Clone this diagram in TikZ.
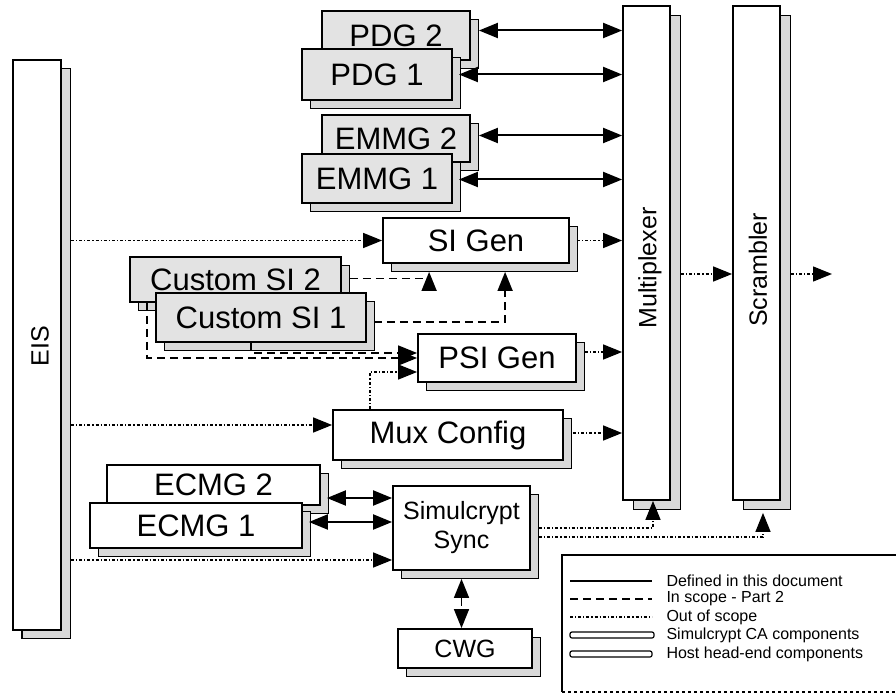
\documentclass[tikz,border=0pt]{standalone}
\usepackage{fontspec}
\setmainfont{Liberation Sans}
\usetikzlibrary{arrows.meta,shadows,calc}
\begin{document}
\begin{tikzpicture}[x=1pt,y=-1pt,
  box/.style={draw=black, line width=1.8pt, fill=white, inner sep=0pt,
    general shadow={shadow xshift=8pt, shadow yshift=-8pt, fill=gray!30, draw=black, line width=0.8pt}},
  tallbox/.style={draw=black, line width=1.8pt, fill=white, inner sep=0pt,
    general shadow={shadow xshift=10pt, shadow yshift=-9pt, fill=gray!30, draw=black, line width=0.8pt}},
  grey/.style={fill=gray!22},
  big/.style={font=\fontsize{31}{36}\selectfont},
  mid/.style={font=\fontsize{25}{29}\selectfont},
  small/.style={font=\fontsize{16}{18}\selectfont},
  def/.style={line width=2pt},
  scopetwo/.style={line width=1.6pt, dash pattern=on 8pt off 5pt},
  oos/.style={line width=1.4pt, dash pattern=on 3pt off 2pt on 1.2pt off 2pt},
  tip/.tip={Triangle[length=19pt,width=15pt]},
  arr/.style={-tip},
  darr/.style={tip-tip},
]
\useasboundingbox (0,0) rectangle (896,695);

% tall boxes
\node[box, general shadow={shadow xshift=9pt, shadow yshift=-8pt, fill=gray!30, draw=black, line width=0.8pt}, minimum width=48pt, minimum height=570pt] (EIS) at (37,345) {};
\node[mid, rotate=90] (EIStxt) at (40,346) {EIS};
\node[tallbox, minimum width=47pt, minimum height=494pt] (Mux) at (646.5,253) {};
\node[mid, rotate=90] (Muxtxt) at (650,268) {Multiplexer};
\node[tallbox, minimum width=47pt, minimum height=494pt] (Scr) at (756.5,253) {};
\node[mid, rotate=90] (Scrtxt) at (758,270) {Scrambler};

% generators
\node[box, grey, big, minimum width=148pt, minimum height=49pt] (PDG2) at (396,35.5) {PDG 2};
\node[box, grey, big, minimum width=150pt, minimum height=51pt] (PDG1) at (377,74.5) {PDG 1};
\node[box, grey, big, minimum width=148pt, minimum height=47pt] (EMMG2) at (396,138.5) {EMMG 2};
\node[box, grey, big, minimum width=150pt, minimum height=49pt] (EMMG1) at (377,178.5) {EMMG 1};
\node[box, big, minimum width=186pt, minimum height=45pt] (SIGen) at (476,240.5) {SI Gen};
\node[box, grey, big, minimum width=211pt, minimum height=45pt] (CSI2) at (235.5,279.5) {Custom SI 2};
\node[box, grey, big, minimum width=210pt, minimum height=49pt] (CSI1) at (261,317.5) {Custom SI 1};
\node[box, big, minimum width=158pt, minimum height=48pt] (PSIGen) at (497,358) {PSI Gen};
\node[box, big, minimum width=230pt, minimum height=50pt] (MuxCfg) at (448,435) {Mux Config};
\node[box, big, minimum width=213pt, minimum height=40pt] (ECMG2) at (213.5,485) {ECMG 2};
\node[box, big, minimum width=212pt, minimum height=45pt] (ECMG1) at (196,525.5) {ECMG 1};
\node[box, mid, align=center, minimum width=137pt, minimum height=84pt] (Sync) at (461.5,528) {Simulcrypt\\Sync};
\node[box, mid, minimum width=134pt, minimum height=39pt] (CWG) at (465,648.5) {CWG};

% PDG / EMMG links
\draw[def, darr] ($(PDG2.east)+(8,-5)$) -- ($(PDG2.east -| Mux.west)+(0,-5)$);
\draw[def, darr] ($(PDG1.east)+(6,0)$) -- (PDG1.east -| Mux.west);
\draw[def, darr] ($(EMMG2.east)+(8,-3)$) -- ($(EMMG2.east -| Mux.west)+(0,-3)$);
\draw[def, darr] ($(EMMG1.east)+(6,1)$) -- ($(EMMG1.east -| Mux.west)+(0,1)$);

% SI links
\draw[oos, arr] ($(SIGen.west -| EIS.east)+(9,0)$) -- (SIGen.west);
\draw[oos, arr] ($(SIGen.east)+(7,0)$) -- (SIGen.east -| Mux.west);
\draw[scopetwo, arr] ($(CSI2.east)+(8,-1)$) -| ($(SIGen.south west)+(47,8)$);
\draw[scopetwo, arr] ($(CSI1.east)+(7,4.5)$) -| ($(SIGen.south west)+(123,8)$);
\draw[scopetwo, arr] ($(CSI2.south west)+(18,0)$) |- (PSIGen.west);
\draw[scopetwo, arr] ($(CSI1.south west)+(96,0)$) |- ($(PSIGen.west)+(0,-5)$);
\draw[oos, arr] ($(MuxCfg.north west)+(38,0)$) |- ($(PSIGen.west)+(0,14)$);
\draw[oos, arr] ($(PSIGen.east)+(8,-6)$) -- ($(PSIGen.east -| Mux.west)+(0,-6)$);
\draw[oos, arr] ($(MuxCfg.west -| EIS.east)+(9,-10)$) -- ($(MuxCfg.west)+(0,-10)$);
\draw[oos, arr] ($(MuxCfg.east)+(9,-2)$) -- ($(MuxCfg.east -| Mux.west)+(0,-2)$);

% ECMG / Sync links
\draw[def, darr] ($(ECMG2.east)+(6,13)$) -- ($(ECMG2.east -| Sync.west)+(0,13)$);
\draw[def, darr] ($(ECMG1.east)+(6,-3.5)$) -- ($(ECMG1.east -| Sync.west)+(0,-3.5)$);
\draw[oos, arr] ($(Sync.west -| EIS.east)+(9,32)$) -- ($(Sync.west)+(0,32)$);
\draw[oos, arr] ($(Sync.east)+(8,0)$) -| ($(Mux.south)+(6.5,0)$);
\draw[oos, arr] ($(Sync.east)+(8,9)$) -| ($(Scr.south)+(6.5,12)$);
\draw[scopetwo, darr] ($(Sync.south)+(0,8)$) -- (Sync.south |- CWG.north);

% transport stream
\coordinate (out) at (832,274);
\draw[oos, arr] ($(Mux.east)+(10,21)$) -- ($(Mux.east -| Scr.west)+(0,21)$);
\draw[oos, arr] ($(Scr.east)+(10,21)$) -- (out);

% legend
\draw[line width=1.2pt] (900,555) -- (562,555) -- (562,692);
\draw[line width=1.2pt, dashed] (562,692) -- (900,692);
\coordinate (l1a) at (570,581); \coordinate (l1b) at (652,581);
\coordinate (l2a) at (570,599); \coordinate (l2b) at (652,599);
\coordinate (l3a) at (570,617); \coordinate (l3b) at (652,617);
\draw[def] (l1a) -- (l1b);
\draw[scopetwo] (l2a) -- (l2b);
\draw[oos] (l3a) -- (l3b);
\draw[line width=1.2pt, rounded corners=2pt] (570,632) rectangle (654,638);
\draw[line width=1.2pt, rounded corners=2pt] (570,651) rectangle (652,657);
\node[small, anchor=west] (t1) at (663,581) {Defined in this document};
\node[small, anchor=west] (t2) at (663,599) {In scope -  Part 2};
\node[small, anchor=west] (t3) at (663,617) {Out of scope};
\node[small, anchor=west] (t4) at (663,635) {Simulcrypt CA components};
\node[small, anchor=west] (t5) at (663,654) {Host head-end components};
\end{tikzpicture}
\end{document}
